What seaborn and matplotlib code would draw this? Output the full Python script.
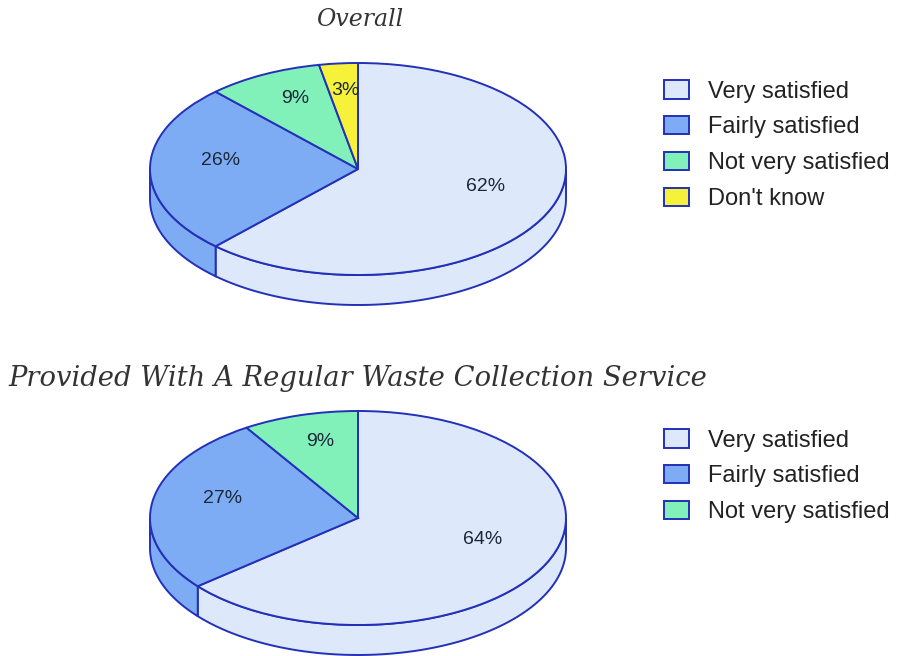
import matplotlib
matplotlib.use("Agg")
import matplotlib.pyplot as plt
import numpy as np
import seaborn as sns
from matplotlib.patches import Polygon

sns.set_theme(style="white")
plt.rcParams['font.family'] = ['Liberation Sans', 'DejaVu Sans']

overall_title = "Overall"
overall_labels = ["Very satisfied", "Fairly satisfied", "Not very satisfied", "Don't know"]
overall_values = [62, 26, 9, 3]

service_title = "Provided With A Regular Waste Collection Service"
service_labels = ["Very satisfied", "Fairly satisfied", "Not very satisfied"]
service_values = [64, 27, 9]

palette = sns.color_palette(["#dde8fb", "#7eacf4", "#82f0b9", "#f6f23a"])
EDGE = "#2330b8"
TEXT = "#1c2838"

W, H = 907, 656
fig = plt.figure(figsize=(W / 100, H / 100), dpi=100)
fig.patch.set_facecolor("white")


def draw_pie(values, labels, cx, cy, rx, ry, depth, box, legend_xy):
    x0, y0, x1, y1 = box  # pixel box, origin top-left
    ax = fig.add_axes([x0 / W, 1 - y1 / H, (x1 - x0) / W, (y1 - y0) / H])
    colors = palette[:len(values)]
    wedges, texts, autotexts = ax.pie(
        values, colors=colors, startangle=90, counterclock=False,
        autopct="%.0f%%", pctdistance=0.66,
        wedgeprops=dict(edgecolor=EDGE, linewidth=1.4),
        textprops=dict(fontsize=14, color=TEXT))
    # the 3D view lifts the labels slightly
    for t in autotexts:
        x, y = t.get_position()
        t.set_position((x, y + 0.08))
    ax.set_aspect("auto")
    ax.set_xlim((x0 - cx) / rx, (x1 - cx) / rx)
    ax.set_ylim((cy - y1) / ry, (cy - y0) / ry)
    ax.axis("off")
    d = depth / ry
    for w, c in zip(wedges, colors):
        t1, t2 = w.theta1, w.theta2
        for k in (-360, 0, 360):
            a = max(t1 + k, -180)
            b = min(t2 + k, 0)
            if b > a:
                t = np.radians(np.linspace(a, b, 120))
                xs, ys = np.cos(t), np.sin(t)
                pts = np.concatenate([np.column_stack([xs, ys]),
                                      np.column_stack([xs[::-1], ys[::-1] - d])])
                ax.add_patch(Polygon(pts, closed=True, facecolor=c,
                                     edgecolor=EDGE, lw=1.4, zorder=0.5))
    lx, ly = legend_xy
    ax.legend(wedges, labels, loc="upper left",
              bbox_to_anchor=(lx / W, 1 - ly / H), bbox_transform=fig.transFigure,
              frameon=False, fontsize=17, handlelength=1.05, handleheight=0.8,
              labelspacing=0.57, handletextpad=0.8, borderaxespad=0,
              labelcolor="#222222")
    return ax


draw_pie(overall_values, overall_labels, 358, 169, 208, 106, 30,
         (140, 50, 580, 320), (655, 71))
draw_pie(service_values, service_labels, 358, 518, 208, 107, 30,
         (140, 400, 580, 656), (655, 420))

fig.text(360 / W, 1 - 20 / H, overall_title, ha="center", va="center",
         fontstyle="italic", family="DejaVu Serif", fontsize=17, color="#333333")
fig.text(8 / W, 1 - 378 / H, service_title, ha="left", va="center",
         fontstyle="italic", family="DejaVu Serif", fontsize=19.7, color="#333333")

fig.savefig("out.png", dpi=100, facecolor="white")
